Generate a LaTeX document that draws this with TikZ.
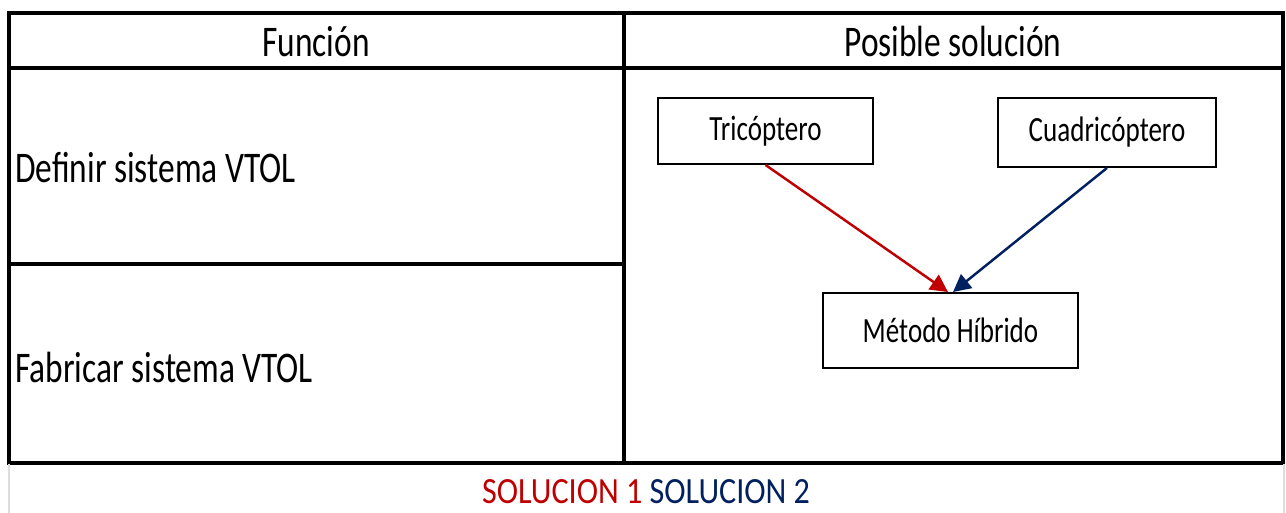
\documentclass[tikz,border=0pt]{standalone}
\usepackage{fontspec}
\usepackage{graphicx}
\setmainfont{Carlito}
\usetikzlibrary{arrows.meta}

\definecolor{solred}{RGB}{192,0,0}
\definecolor{solblue}{RGB}{0,32,96}
\definecolor{sheetgray}{RGB}{221,221,221}

% Excel-like text: tall, narrow letters
\newcommand{\tall}[2][1.31]{\scalebox{1}[#1]{#2}}

\begin{document}
\begin{tikzpicture}[
  x=0.02cm, y=-0.02cm,
  rule/.style={line width=2.3pt},
  cell/.style={inner sep=0pt, font=\fontsize{19}{22}\selectfont},
  box/.style={draw, line width=1.1pt, inner sep=0pt, font=\fontsize{15.4}{18}\selectfont},
  link/.style={line width=1.4pt, -{Triangle[length=10pt,width=10pt]}}
]
  \useasboundingbox[fill=white] (0,0) rectangle (1286,513);

  % table frame
  \draw[rule] (9,13) rectangle (1283,463);
  \draw[rule] (9,68) -- (1283,68);
  \draw[rule] (624,13) -- (624,463);
  \draw[rule] (9,264) -- (624,264);
  \draw[sheetgray, line width=1.6pt] (9,464) -- (9,513);
  \draw[sheetgray, line width=1.6pt] (1284,464) -- (1284,513);

  % headers and rows
  \node[cell, anchor=base] (fun) at (316,57) {\tall{Función}};
  \node[cell, anchor=base] (sol) at (953,57) {\tall{Posible solución}};
  \node[cell, anchor=base west] (def) at (15,183) {\tall{Definir sistema VTOL}};
  \node[cell, anchor=base west] (fab) at (15,383) {\tall{Fabricar sistema VTOL}};

  % solution boxes
  \node[box, minimum width=4.3cm, minimum height=1.32cm] (tri) at (765.5,131) {\tall{Tricóptero}};
  \node[box, minimum width=4.36cm, minimum height=1.38cm] (cua) at (1107,132.5) {\tall{Cuadricóptero}};
  \node[box, minimum width=5.1cm, minimum height=1.5cm] (hib) at (950.5,330.5) {\tall{Método Híbrido}};

  \draw[link, solred] (tri.south) -- ([xshift=-0.05cm]hib.north);
  \draw[link, solblue] (cua.south) -- ([xshift=0.05cm]hib.north);

  % legend
  \node[cell, anchor=base, font=\fontsize{18.3}{22}\selectfont] (leg) at (646,503)
    {\tall[1.15]{\textcolor{solred}{SOLUCION 1} \textcolor{solblue}{SOLUCION 2}}};
\end{tikzpicture}
\end{document}
